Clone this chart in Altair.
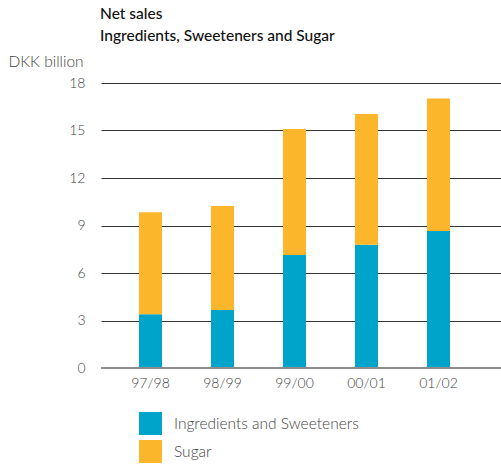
import altair as alt
import pandas as pd

years = ["97/98", "98/99", "99/00", "00/01", "01/02"]
ingredients = [3.39, 3.66, 7.14, 7.79, 8.65]
sugar = [6.44, 6.57, 7.96, 8.26, 8.37]
series = ["Ingredients and Sweeteners", "Sugar"]
colors = ["#00A3C9", "#FBB62B"]
y_ticks = [0, 3, 6, 9, 12, 15, 18]

rows = []
for i, yr in enumerate(years):
    rows.append({"year": yr, "series": series[0], "value": ingredients[i], "ord": 0})
    rows.append({"year": yr, "series": series[1], "value": sugar[i], "ord": 1})
df = pd.DataFrame(rows)

FONT = "Lato"

bars = alt.Chart(df).mark_bar().encode(
    x=alt.X("year:N", sort=years,
            scale=alt.Scale(paddingInner=0.68, paddingOuter=0.6178, align=0.427),
            axis=alt.Axis(title=None, labelAngle=0, domain=False, ticks=False,
                          labelPadding=8, labelFontSize=14, labelColor="#444",
                          labelFont=FONT, labelFontWeight=300)),
    y=alt.Y("value:Q", stack="zero",
            scale=alt.Scale(domain=[0, 18], nice=False),
            axis=alt.Axis(values=y_ticks, title="DKK billion", titleAngle=0,
                          titleAlign="left", titleBaseline="alphabetic",
                          titleX=-93, titleY=-17, titleFontSize=15.5,
                          titleFontWeight=300, titleColor="#444", titleFont=FONT,
                          domain=False, ticks=False, labelPadding=16,
                          labelFontSize=14, labelColor="#444", labelFont=FONT,
                          labelFontWeight=300,
                          grid=True, gridColor="#333", gridWidth=1)),
    color=alt.Color("series:N", scale=alt.Scale(domain=series, range=colors),
                    legend=alt.Legend(title=None, orient="none", legendX=38, legendY=329,
                                      symbolType="square", symbolSize=529,
                                      symbolStrokeWidth=0, rowPadding=5,
                                      labelOffset=12, labelFontSize=15.5, labelLimit=0,
                                      labelColor="#444", labelFont=FONT,
                                      labelFontWeight=300)),
    order=alt.Order("ord:Q"),
)

zero = alt.Chart(pd.DataFrame({"v": [0]})).mark_rule(color="#8c8c8c", strokeWidth=2).encode(
    y="v:Q"
)

chart = alt.layer(bars, zero).properties(
    width=400, height=285,
    autosize=alt.AutoSizeParams(type="none"),
    padding={"left": 101, "top": 83, "right": 0, "bottom": 98},
    title=alt.TitleParams(text=["Net sales", "Ingredients, Sweeteners and Sugar"],
                          anchor="start", frame="group", fontSize=15.5,
                          fontWeight=500, font=FONT, color="#111",
                          lineHeight=22, offset=10, dx=-1),
).configure_view(stroke=None)

chart.save("out.html", embed_options={"renderer": "svg", "actions": False})
